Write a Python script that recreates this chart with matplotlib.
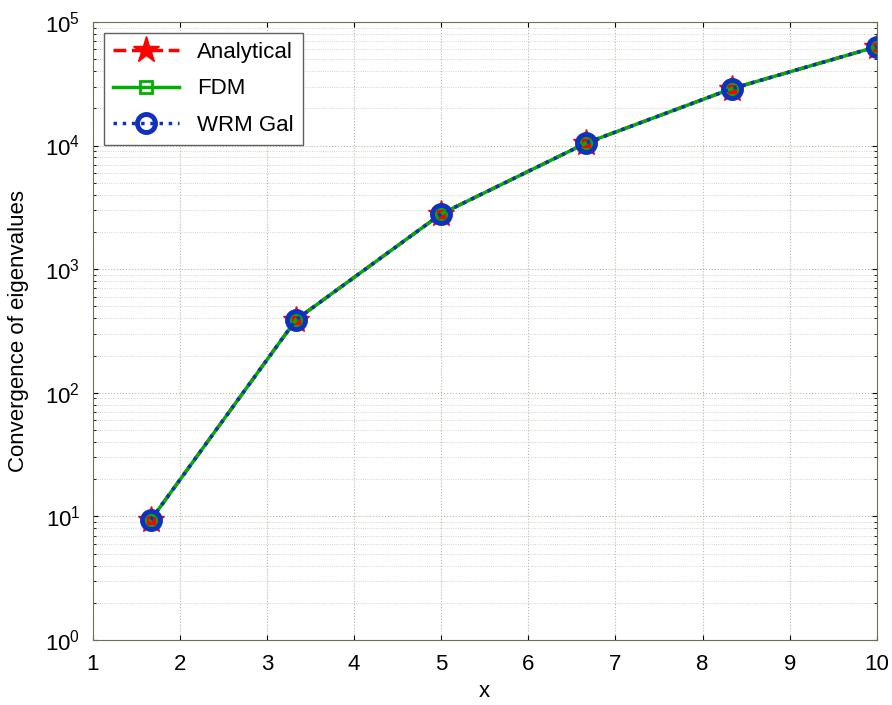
import numpy as np
import matplotlib.pyplot as plt

plt.rcParams['font.family'] = ['Liberation Sans', 'DejaVu Sans']

# sample points and eigenvalues
x = [1.667, 3.333, 5.0, 6.667, 8.333, 10.0]
analytical = [9.4, 390, 2800, 10500, 28800, 63000]
fdm = [9.4, 390, 2800, 10500, 28800, 63000]
wrm_gal = [9.4, 390, 2800, 10500, 28800, 63000]

fig = plt.figure(figsize=(8.92, 7.05), dpi=100)
ax = fig.add_axes([0.104, 0.092, 0.879, 0.877])

ax.semilogy(x, analytical, '--', color='red', marker='*', markersize=20, lw=2.5, label='Analytical')
ax.semilogy(x, fdm, '-', color='#00b000', marker='s', markersize=9, mfc='none', mew=2, lw=2.5, label='FDM')
ax.semilogy(x, wrm_gal, ':', color='#1030c0', marker='o', markersize=13, mfc='none', mew=3.5, lw=2.5, label='WRM Gal')

ax.set_xlim(1, 10)
ax.set_ylim(1, 1e5)
ax.set_xticks(range(1, 11))
ax.grid(True, which='major', ls=':', color='#b8b8a8', lw=0.8)
ax.grid(True, which='minor', axis='y', ls=':', color='#c8c8c0', lw=0.6)
ax.tick_params(direction='in', which='both', top=True, right=True, labelsize=16)
ax.tick_params(axis='x', which='major', pad=10)
ax.tick_params(axis='y', which='major', pad=9)
for s in ax.spines.values():
    s.set_color('#707050')

ax.set_xlabel('x', fontsize=16, labelpad=4)
ax.set_ylabel('Convergence of eigenvalues', fontsize=16, labelpad=12)

leg = ax.legend(loc='upper left', fontsize=16, fancybox=False, framealpha=1,
                edgecolor='#606060', handlelength=3.0, borderaxespad=0.5,
                labelspacing=0.7)
leg.get_frame().set_linewidth(1)

fig.savefig('out.png', dpi=100)
